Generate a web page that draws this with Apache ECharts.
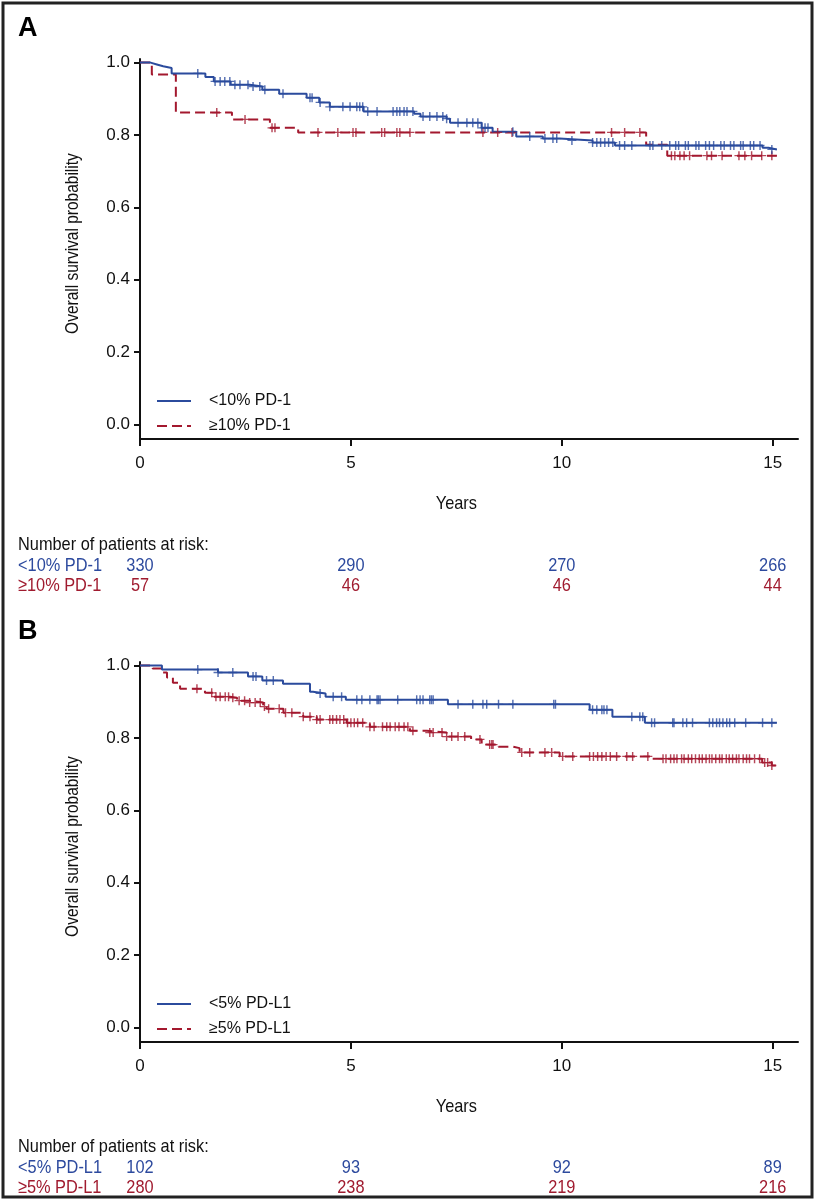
<!DOCTYPE html>
<html><head><meta charset="utf-8">
<script src="https://cdn.jsdelivr.net/npm/echarts@6/dist/echarts.min.js"></script>
<style>html,body{margin:0;padding:0;background:#fff}#c{width:815px;height:1200px}</style>
</head><body><div id="c"></div>
<script>
// ---------- data ----------
const xTicks = [0, 5, 10, 15];
const yTicks = [0, 0.2, 0.4, 0.6, 0.8, 1.0];
const xTitle = 'Years';
const yTitle = 'Overall survival probability';
const riskTitle = 'Number of patients at risk:';
const groupsA = ['<10% PD-1', '≥10% PD-1'];
const groupsB = ['<5% PD-L1', '≥5% PD-L1'];
const riskTimes = [0, 5, 10, 15];
const riskA_low = [330, 290, 270, 266];
const riskA_high = [57, 46, 46, 44];
const riskB_low = [102, 93, 92, 89];
const riskB_high = [280, 238, 219, 216];

// Kaplan-Meier steps [years, survival]
const kmA_low = [[0,1],[0.25,0.995],[0.4,0.99],[0.55,0.985],[0.75,0.97],[1.55,0.96],[1.75,0.948],[2.15,0.939],[2.6,0.934],[2.9,0.925],[3.3,0.914],[3.95,0.903],[4.25,0.89],[4.5,0.878],[5.3,0.865],[6.5,0.859],[6.65,0.851],[7.27,0.845],[7.35,0.834],[8.1,0.82],[8.36,0.809],[8.92,0.796],[9.55,0.79],[9.95,0.785],[10.73,0.779],[11.26,0.771],[14.76,0.765],[14.9,0.76],[15.1,0.76]];
const kmA_high = [[0,1],[0.28,0.967],[0.85,0.862],[2.18,0.843],[3.08,0.82],[3.75,0.807],[12.0,0.773],[12.5,0.743],[15.1,0.743]];
const kmB_low = [[0,1],[0.52,0.989],[1.85,0.981],[2.56,0.97],[2.9,0.959],[3.39,0.95],[4.03,0.928],[4.1,0.923],[4.4,0.914],[4.88,0.906],[7.3,0.893],[10.66,0.878],[11.2,0.859],[11.97,0.842],[15.1,0.842]];
const kmB_high = [[0,1],[0.3,0.992],[0.5,0.981],[0.64,0.967],[0.78,0.953],[0.95,0.936],[1.54,0.925],[1.73,0.914],[2.13,0.911],[2.3,0.903],[2.6,0.898],[2.92,0.887],[3.0,0.881],[3.4,0.87],[3.87,0.859],[4.19,0.851],[4.9,0.842],[5.45,0.831],[6.4,0.82],[6.8,0.815],[7.27,0.804],[7.85,0.796],[8.1,0.782],[8.5,0.776],[8.85,0.772],[9.0,0.76],[9.95,0.749],[12.15,0.743],[14.75,0.732],[14.98,0.724],[15.1,0.724]];

// censoring times (years)
const censA_low = [1.37,1.78,1.9,2.01,2.13,2.25,2.37,2.56,2.68,2.84,2.96,3.39,4.03,4.08,4.27,4.5,4.81,4.98,5.14,5.21,5.28,5.4,5.62,6.0,6.09,6.16,6.26,6.33,6.47,6.71,6.87,7.04,7.18,7.27,7.54,7.75,7.89,8.01,8.1,8.18,8.25,8.84,9.24,9.6,9.79,9.88,10.24,10.73,10.83,10.92,11.02,11.11,11.21,11.37,11.49,11.66,12.09,12.16,12.37,12.56,12.7,12.77,12.93,13.0,13.18,13.25,13.41,13.5,13.6,13.77,13.85,14.0,14.08,14.24,14.3,14.47,14.55,14.7,14.98];
const censA_high = [1.82,2.49,3.13,3.2,4.22,4.69,5.05,5.12,5.73,5.8,6.09,6.16,6.4,8.13,8.48,8.82,11.18,11.49,11.85,12.6,12.68,12.8,12.9,13.03,13.44,13.55,13.8,14.2,14.34,14.5,14.74,14.98];
const censB_low = [1.37,1.85,2.2,2.68,2.75,3.0,3.16,4.27,4.58,4.78,5.14,5.26,5.45,5.62,5.65,5.69,6.11,6.56,6.64,6.71,6.87,6.91,6.95,7.54,7.89,8.13,8.22,8.5,8.84,9.81,9.85,10.73,10.83,10.95,11.0,11.07,11.66,11.85,11.92,12.13,12.2,12.63,12.66,12.87,12.96,13.1,13.5,13.58,13.67,13.74,13.82,13.91,13.98,14.1,14.36,14.76,14.98];
const censB_high = [1.35,1.7,1.8,1.9,2.02,2.1,2.2,2.35,2.48,2.6,2.73,2.85,2.95,3.05,3.3,3.45,3.6,3.87,4.03,4.19,4.27,4.5,4.57,4.66,4.74,4.83,4.92,5.0,5.08,5.16,5.28,5.45,5.55,5.75,5.85,5.93,6.05,6.14,6.26,6.35,6.47,6.87,6.95,7.16,7.27,7.39,7.54,7.7,8.06,8.29,8.34,8.37,9.05,9.24,9.6,9.76,10.02,10.26,10.66,10.75,10.85,10.95,11.05,11.15,11.3,11.54,11.68,12.04,12.4,12.47,12.58,12.66,12.73,12.84,12.9,13.0,13.08,13.17,13.26,13.33,13.42,13.5,13.56,13.65,13.74,13.8,13.9,13.97,14.05,14.14,14.2,14.3,14.38,14.45,14.57,14.69,14.81,14.88,14.98];

// ---------- styles ----------
const BLUE = '#2b4b9d', RED = '#a3182e';
const BLUE_T = '#2d4a9e', RED_T = '#a01b2f';
const INK = '#111';
const REG = '"Liberation Sans",Arial,sans-serif';
const NARROW_FONT = '19px ' + REG;
const TITLE_FONT = '18px ' + REG;
const NARROW_SCALE = 0.86;
const PLUS = 'path://M4.2,0H5.8V10H4.2Z M0,4.3H10V5.7H0Z';

function survAt(steps, t) {
  let s = steps[0][1];
  for (const [tt, v] of steps) { if (tt <= t) s = v; else break; }
  return s;
}
function cens(steps, times) { return times.map(t => [t, survAt(steps, t)]); }

function xAx(gi) {
  return {
    type: 'value', gridIndex: gi, min: 0, max: 15.6, interval: 5,
    axisLine: { show: true, onZero: false, lineStyle: { color: INK, width: 2 } },
    axisTick: { show: true, length: 7, lineStyle: { color: INK, width: 2 }, customValues: xTicks },
    axisLabel: { fontFamily: REG, fontSize: 17, color: INK, margin: 16, customValues: xTicks },
    splitLine: { show: false }
  };
}
function yAx(gi) {
  return {
    type: 'value', gridIndex: gi, min: -0.04, max: 1.01,
    axisLine: { show: true, onZero: false, lineStyle: { color: INK, width: 2 } },
    axisTick: { show: true, length: 6, lineStyle: { color: INK, width: 2 }, customValues: yTicks },
    axisLabel: { fontFamily: REG, fontSize: 17, color: INK, margin: 10, customValues: yTicks,
      formatter: v => v.toFixed(1) },
    splitLine: { show: false }
  };
}
function kmLine(name, data, gi, color, dashed) {
  return { type: 'line', name, data, xAxisIndex: gi, yAxisIndex: gi, step: 'end',
    symbol: 'none', silent: true, z: dashed ? 2 : 3,
    lineStyle: { color, width: 2, type: dashed ? [10, 5] : 'solid' }, itemStyle: { color } };
}
function censSeries(name, steps, times, gi, color) {
  return { type: 'scatter', name, data: cens(steps, times), xAxisIndex: gi, yAxisIndex: gi,
    symbol: PLUS, symbolSize: [9, 9], silent: true, z: 4, itemStyle: { color } };
}
function legendFor(data, top) {
  return { data, orient: 'vertical', left: 156, top, padding: 0, itemWidth: 34, itemHeight: 14, itemGap: 9,
    selectedMode: false, itemStyle: { opacity: 0 },
    textStyle: { fontFamily: REG, fontSize: 16, color: INK, padding: [0, 0, 0, 13] } };
}

const chart = echarts.init(document.getElementById('c'), null, { renderer: 'canvas' });
chart.setOption({
  backgroundColor: '#fff',
  animation: false,
  grid: [
    { left: 140, top: 59, width: 658, height: 380, outerBoundsMode: 'none', containLabel: false },
    { left: 140, top: 662, width: 658, height: 380, outerBoundsMode: 'none', containLabel: false }
  ],
  xAxis: [xAx(0), xAx(1)],
  yAxis: [yAx(0), yAx(1)],
  legend: [legendFor(groupsA, 393), legendFor(groupsB, 996)],
  series: [
    kmLine(groupsA[1], kmA_high, 0, RED, true),
    kmLine(groupsA[0], kmA_low, 0, BLUE, false),
    censSeries('censA_high', kmA_high, censA_high, 0, RED),
    censSeries('censA_low', kmA_low, censA_low, 0, BLUE),
    kmLine(groupsB[1], kmB_high, 1, RED, true),
    kmLine(groupsB[0], kmB_low, 1, BLUE, false),
    censSeries('censB_high', kmB_high, censB_high, 1, RED),
    censSeries('censB_low', kmB_low, censB_low, 1, BLUE)
  ]
});

// condensed-looking text (axis titles, risk tables)
function ntext(x, y, text, fill, align, extra, font) {
  return Object.assign({ type: 'text', x, y, scaleX: NARROW_SCALE, silent: true,
    style: { text, font: font || NARROW_FONT, fill, align: align || 'left', verticalAlign: 'middle' } }, extra || {});
}
function panelTexts(gi, yearsY, riskY, labels, low, high) {
  const els = [];
  const xMid = chart.convertToPixel({ xAxisIndex: gi }, 7.5);
  const yc = (chart.convertToPixel({ yAxisIndex: gi }, 0) + chart.convertToPixel({ yAxisIndex: gi }, 1)) / 2;
  els.push(ntext(73, yc, yTitle, INK, 'center', { rotation: Math.PI / 2 }, TITLE_FONT));
  els.push(ntext(xMid, yearsY, xTitle, INK, 'center'));
  els.push(ntext(18, riskY, riskTitle, INK, 'left'));
  [[labels[0], low, BLUE_T, riskY + 21], [labels[1], high, RED_T, riskY + 41]].forEach(([lab, vals, col, y]) => {
    els.push(ntext(18, y, lab, col, 'left'));
    riskTimes.forEach((t, i) => {
      const px = chart.convertToPixel({ xAxisIndex: gi }, t);
      els.push(ntext(px, y, String(vals[i]), col, 'center'));
    });
  });
  return els;
}
const graphics = [
  { type: 'rect', shape: { x: 3, y: 3, width: 809, height: 1194 }, style: { fill: null, stroke: '#222', lineWidth: 3 }, silent: true },
  { type: 'text', x: 18, y: 29, style: { text: 'A', font: 'bold 27px ' + REG, fill: '#000', verticalAlign: 'middle' } },
  { type: 'text', x: 18, y: 632, style: { text: 'B', font: 'bold 27px ' + REG, fill: '#000', verticalAlign: 'middle' } }
].concat(panelTexts(0, 504, 545, groupsA, riskA_low, riskA_high))
 .concat(panelTexts(1, 1107, 1147, groupsB, riskB_low, riskB_high));
chart.setOption({ graphic: graphics });
</script></body></html>
